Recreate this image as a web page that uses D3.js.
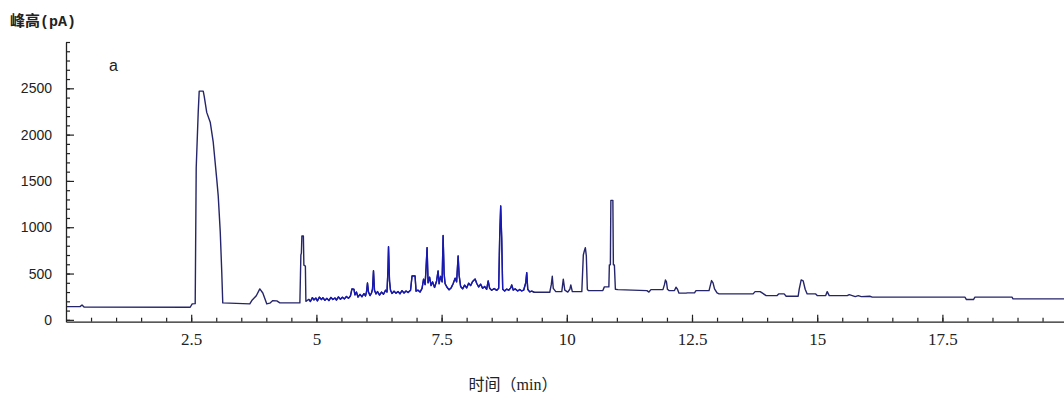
<!DOCTYPE html>
<html>
<head>
<meta charset="utf-8">
<script src="https://cdn.jsdelivr.net/npm/d3@7"></script>
<style>
  html, body { margin: 0; padding: 0; background: #fff; }
  svg { display: block; }
</style>
</head>
<body>
<svg id="chart" width="1064" height="394"></svg>
<script>
// tick values
const x_ticks = [2.5, 5, 7.5, 10, 12.5, 15, 17.5];
const y_ticks = [0, 500, 1000, 1500, 2000, 2500];

// part of the run that is drawn in bright blue (dense peak cluster)
const blue_range = [4.84, 9.36];

// chromatogram trace: [retention time (min), peak height (pA)]
const chromatogram = [
  [0.02, 143], [0.28, 143], [0.32, 160], [0.36, 138], [2.48, 136], [2.52, 172], [2.58, 175],
  [2.60, 1640], [2.64, 2240], [2.66, 2470], [2.74, 2470], [2.76, 2414], [2.81, 2240],
  [2.88, 2134], [2.94, 1918], [3.01, 1520], [3.04, 1336], [3.08, 950], [3.11, 520],
  [3.13, 183], [3.67, 172], [3.71, 208], [3.80, 260], [3.87, 334], [3.93, 290], [3.97, 230],
  [4.01, 172], [4.07, 180], [4.13, 208], [4.21, 205], [4.27, 183], [4.67, 183], [4.69, 700],
  [4.70, 720], [4.71, 905], [4.74, 905], [4.75, 590], [4.78, 580], [4.79, 200], [4.81, 208],
  [4.85, 222], [4.88, 198], [4.92, 240], [4.95, 215], [4.99, 235], [5.02, 205], [5.06, 245],
  [5.10, 220], [5.13, 238], [5.17, 212], [5.21, 232], [5.25, 208], [5.29, 242], [5.33, 220],
  [5.37, 236], [5.40, 214], [5.44, 248], [5.48, 222], [5.52, 244], [5.56, 226], [5.60, 252],
  [5.64, 232], [5.68, 258], [5.71, 334], [5.75, 330], [5.77, 270], [5.80, 300], [5.83, 245],
  [5.87, 275], [5.91, 250], [5.95, 282], [5.98, 258], [6.00, 300], [6.02, 398], [6.04, 300],
  [6.07, 262], [6.10, 290], [6.12, 330], [6.14, 530], [6.16, 320], [6.19, 280], [6.22, 305],
  [6.26, 268], [6.30, 300], [6.34, 276], [6.38, 320], [6.41, 300], [6.43, 560], [6.44, 790],
  [6.46, 420], [6.48, 320], [6.51, 285], [6.55, 310], [6.59, 288], [6.63, 305], [6.67, 282],
  [6.71, 315], [6.75, 290], [6.79, 312], [6.83, 295], [6.88, 320], [6.91, 474], [6.97, 474],
  [6.99, 310], [7.03, 320], [7.07, 300], [7.11, 340], [7.14, 440], [7.17, 380], [7.19, 560],
  [7.21, 780], [7.23, 400], [7.26, 460], [7.29, 370], [7.32, 410], [7.36, 350], [7.40, 420],
  [7.43, 528], [7.45, 390], [7.48, 470], [7.51, 410], [7.53, 910], [7.55, 500], [7.57, 390],
  [7.61, 350], [7.65, 325], [7.69, 345], [7.73, 390], [7.77, 450], [7.80, 410], [7.83, 690],
  [7.85, 480], [7.88, 360], [7.92, 335], [7.96, 375], [8.00, 345], [8.04, 395], [8.08, 370],
  [8.12, 415], [8.17, 440], [8.20, 395], [8.24, 355], [8.28, 385], [8.32, 340], [8.36, 360],
  [8.40, 330], [8.43, 420], [8.46, 340], [8.50, 320], [8.55, 338], [8.60, 318], [8.64, 340],
  [8.66, 900], [8.68, 1230], [8.70, 880], [8.72, 330], [8.76, 312], [8.80, 332], [8.84, 320],
  [8.88, 345], [8.90, 377], [8.93, 322], [8.97, 334], [9.02, 312], [9.06, 328], [9.10, 312],
  [9.14, 322], [9.18, 400], [9.20, 510], [9.22, 330], [9.26, 302], [9.30, 310], [9.35, 298],
  [9.66, 298], [9.69, 380], [9.71, 470], [9.73, 340], [9.78, 305], [9.90, 305], [9.93, 440],
  [9.96, 320], [10.02, 300], [10.06, 330], [10.08, 377], [10.11, 305], [10.30, 305],
  [10.33, 700], [10.35, 745], [10.37, 780], [10.39, 690], [10.41, 330], [10.43, 316],
  [10.72, 316], [10.75, 356], [10.84, 356], [10.85, 594], [10.87, 594], [10.88, 1290],
  [10.92, 1290], [10.93, 594], [10.95, 594], [10.97, 330], [11.02, 326], [11.60, 316],
  [11.64, 300], [11.68, 326], [11.92, 326], [11.95, 380], [11.97, 430], [11.99, 410],
  [12.01, 330], [12.04, 316], [12.15, 316], [12.18, 352], [12.21, 330], [12.24, 288],
  [12.38, 288], [12.41, 291], [12.55, 291], [12.58, 316], [12.84, 316], [12.87, 380],
  [12.89, 424], [12.92, 400], [12.95, 334], [13.00, 290], [13.04, 280], [13.72, 280],
  [13.76, 305], [13.86, 305], [13.90, 291], [13.98, 262], [14.20, 262], [14.23, 280],
  [14.34, 280], [14.38, 255], [14.62, 255], [14.64, 330], [14.68, 431], [14.72, 420],
  [14.76, 330], [14.80, 280], [14.97, 280], [15.00, 262], [15.17, 262], [15.20, 305],
  [15.24, 262], [15.60, 262], [15.64, 272], [15.70, 262], [15.76, 251], [15.82, 262],
  [15.88, 251], [16.05, 255], [16.10, 245], [17.95, 245], [17.98, 219], [18.12, 219],
  [18.15, 245], [18.89, 245], [18.91, 226], [20.00, 226]
];

const margin = { left: 66, top: 40, bottom: 72 };

function build_chart(svg) {
  const height = +svg.attr("height");

  const x = d3.scaleLinear()
    .domain([0, 20])
    .range([margin.left, margin.left + 20 * 50.08]);

  const y = d3.scaleLinear()
    .domain([-20, 3000])
    .range([height - margin.bottom - 0.3, 42]);

  // minor ticks first so the major ones sit on top
  svg.append("g")
    .attr("transform", `translate(${ margin.left }, 0)`)
    .call(d3.axisLeft(y).tickValues(d3.range(0, 3001, 100)).tickSize(-4).tickFormat(""))
    .call(g => g.select(".domain").remove());

  svg.append("g")
    .attr("transform", `translate(0, ${ y(-20) })`)
    .call(d3.axisBottom(x).tickValues(d3.range(0.5, 20.01, 0.5)).tickSize(-4).tickFormat(""))
    .call(g => g.select(".domain").remove());

  const yAxis = svg.append("g")
    .attr("transform", `translate(${ margin.left }, 0)`)
    .call(d3.axisLeft(y).tickValues(y_ticks).tickSize(-8).tickPadding(14).tickSizeOuter(0)
      .tickFormat(d => d));

  yAxis.selectAll("text")
    .attr("font-family", "Liberation Sans, Arial, sans-serif")
    .attr("font-size", 14)
    .attr("fill", "#222");

  const xAxis = svg.append("g")
    .attr("transform", `translate(0, ${ y(-20) })`)
    .call(d3.axisBottom(x).tickValues(x_ticks).tickSize(-7).tickPadding(11).tickSizeOuter(0)
      .tickFormat(d => d));

  xAxis.selectAll("text")
    .attr("font-family", "Liberation Serif, Times New Roman, serif")
    .attr("font-size", 17)
    .attr("fill", "#222");

  svg.selectAll(".domain").attr("stroke", "#222").attr("stroke-width", 1.3);
  svg.selectAll(".tick line").attr("stroke", "#222").attr("stroke-width", 1.2);

  const line = d3.line()
    .x(d => x(d[0]))
    .y(d => y(d[1]));

  svg.append("path")
    .datum(chromatogram)
    .attr("fill", "none")
    .attr("stroke", "#25256b")
    .attr("stroke-width", 1.4)
    .attr("stroke-linejoin", "round")
    .attr("d", line);

  svg.append("path")
    .datum(chromatogram.filter(d => d[0] >= blue_range[0] && d[0] <= blue_range[1]))
    .attr("fill", "none")
    .attr("stroke", "#1818b4")
    .attr("stroke-width", 1.3)
    .attr("stroke-linejoin", "round")
    .attr("d", line);

  // labels
  svg.append("text")
    .attr("x", 10)
    .attr("y", 26)
    .attr("font-family", "Liberation Mono, Noto Sans CJK SC, monospace")
    .attr("font-size", 15)
    .attr("font-weight", "bold")
    .attr("fill", "#222")
    .text("峰高(pA)");

  svg.append("text")
    .attr("x", 109)
    .attr("y", 71)
    .attr("font-family", "Liberation Sans, Arial, sans-serif")
    .attr("font-size", 16)
    .attr("fill", "#222")
    .text("a");

  svg.append("text")
    .attr("x", 513)
    .attr("y", 390)
    .attr("text-anchor", "middle")
    .attr("font-family", "Liberation Serif, Noto Sans CJK SC, serif")
    .attr("font-size", 16)
    .attr("fill", "#222")
    .text("时间（min）");
}

build_chart(d3.select("#chart"));
</script>
</body>
</html>
